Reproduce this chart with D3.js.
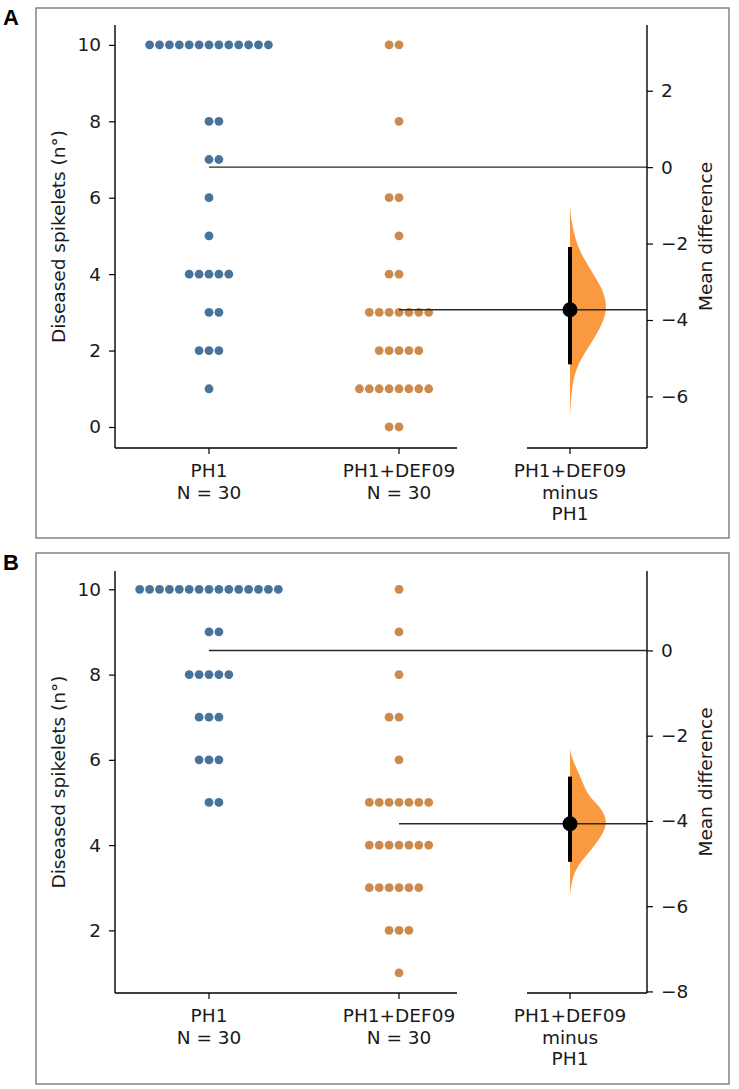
<!DOCTYPE html>
<html><head><meta charset="utf-8">
<script src="https://cdn.jsdelivr.net/npm/d3@7"></script>
<style>body{margin:0;background:#fff}svg{display:block}text{font-family:"DejaVu Sans",sans-serif;fill:#1a1a1a}</style>
</head><body><svg id="c" width="739" height="1089"></svg>
<script>
// ---------- DATA ----------
const groups = ["PH1", "PH1+DEF09"];
const groupN = ["N = 30", "N = 30"];
const diffLabel = ["PH1+DEF09", "minus", "PH1"];
const yLabel = "Diseased spikelets (n°)";
const rLabel = "Mean difference";

// Panel A raw observations
const A_PH1 = [10,10,10,10,10,10,10,10,10,10,10,10,10, 8,8, 7,7, 6, 5, 4,4,4,4,4, 3,3, 2,2,2, 1];
const A_DEF09 = [10,10, 8, 6,6, 5, 4,4, 3,3,3,3,3,3,3, 2,2,2,2,2, 1,1,1,1,1,1,1,1, 0,0];
const A_ci = [-5.16, -2.09];
const A_kdeDiff    = [-0.97,-1.3,-1.62,-2.15,-2.67,-3.19,-3.72,-4.24,-4.76,-5.29,-5.81,-6.2,-6.52];
const A_kdeDensity = [0, 0.02, 0.08, 0.22, 0.53, 0.87, 1.0, 0.79, 0.45, 0.14, 0.05, 0.02, 0];
const A_leftTicks = [0,2,4,6,8,10];
const A_rightTicks = [-6,-4,-2,0,2];
const A_yLim = [-0.55, 10.52];

// Panel B raw observations
const B_PH1 = [10,10,10,10,10,10,10,10,10,10,10,10,10,10,10, 9,9, 8,8,8,8,8, 7,7,7, 6,6,6, 5,5];
const B_DEF09 = [10, 9, 8, 7,7, 6, 5,5,5,5,5,5,5, 4,4,4,4,4,4,4, 3,3,3,3,3,3, 2,2,2, 1];
const B_ci = [-4.96, -2.96];
const B_kdeDiff    = [-2.31,-2.54,-2.85,-3.25,-3.48,-3.72,-4.05,-4.42,-4.89,-5.13,-5.41,-5.72];
const B_kdeDensity = [0, 0.05, 0.22, 0.4, 0.55, 0.85, 1.0, 0.8, 0.35, 0.15, 0.05, 0];
const B_leftTicks = [2,4,6,8,10];
const B_rightTicks = [-8,-6,-4,-2,0];
const B_yLim = [0.53, 10.43];

// ---------- STYLE / LAYOUT ----------
const colBlue = "#48739a", colOrange = "#cc8a4f", colViolin = "#fa9a40";
const FS = 18.5;
const svg = d3.select("#c");

function drawPanel(cfg) {
  const {top, bottom, frame, letter, g1, g2, ci, kdeX, kdeD, leftTicks, rightTicks, yLim} = cfg;
  const g = svg.append("g");
  // frame
  g.append("rect").attr("x", frame[0]).attr("y", frame[1]).attr("width", frame[2]-frame[0]).attr("height", frame[3]-frame[1])
    .attr("fill", "none").attr("stroke", "#707070").attr("stroke-width", 1.3);
  g.append("text").attr("x", 3).attr("y", frame[1] + 17).text(letter)
    .style("font-family", "'Liberation Sans',Arial,sans-serif").style("font-weight", "bold").style("font-size", "22px").style("fill", "#000");

  const xPos = {"PH1": 209, "PH1+DEF09": 399, "diff": 570};
  const y = d3.scaleLinear().domain(yLim).range([bottom, top]);
  const m1 = d3.mean(g1), m2 = d3.mean(g2);
  const yR = d3.scaleLinear().domain([yLim[0] - m1, yLim[1] - m1]).range([bottom, top]);
  const diff = m2 - m1;

  // left axis
  const la = g.append("g").attr("transform", `translate(115,0)`)
    .call(d3.axisLeft(y).tickValues(leftTicks).tickSize(6).tickPadding(8).tickFormat(d3.format("d")));
  la.select(".domain").attr("d", `M0,${top}V${bottom}`);
  // right axis
  const ra = g.append("g").attr("transform", `translate(647,0)`)
    .call(d3.axisRight(yR).tickValues(rightTicks).tickSize(6).tickPadding(8).tickFormat(d3.format("d")));
  ra.select(".domain").attr("d", `M0,${top}V${bottom}`);
  // bottom spines
  g.append("line").attr("x1", 115).attr("x2", 457).attr("y1", bottom).attr("y2", bottom).attr("class", "sp");
  g.append("line").attr("x1", 527).attr("x2", 647).attr("y1", bottom).attr("y2", bottom).attr("class", "sp");
  g.selectAll(".sp").attr("stroke", "#000").attr("stroke-width", 1.4);
  [la, ra].forEach(a => {
    a.selectAll(".domain").attr("stroke", "#000").attr("stroke-width", 1.4);
    a.selectAll(".tick line").attr("stroke", "#000").attr("stroke-width", 1.2);
    a.selectAll(".tick text").style("font-size", FS + "px").style("font-family", "'DejaVu Sans',sans-serif").attr("fill", "#1a1a1a");
  });
  // x ticks + labels
  const labels = [[groups[0], groupN[0]], [groups[1], groupN[1]], diffLabel];
  ["PH1", "PH1+DEF09", "diff"].forEach((k, i) => {
    const xx = xPos[k];
    g.append("line").attr("x1", xx).attr("x2", xx).attr("y1", bottom).attr("y2", bottom + 6).attr("stroke", "#000").attr("stroke-width", 1.2);
    labels[i].forEach((t, j) => {
      g.append("text").attr("x", xx).attr("y", bottom + 29 + j * 21.5).attr("text-anchor", "middle").style("font-size", FS + "px").text(t);
    });
  });
  // axis titles
  const yc = (top + bottom) / 2;
  g.append("text").attr("transform", `translate(65,${yc}) rotate(-90)`).attr("text-anchor", "middle").style("font-size", FS + "px").text(yLabel);
  g.append("text").attr("transform", `translate(712,${yc}) rotate(-90)`).attr("text-anchor", "middle").style("font-size", FS + "px").text(rLabel);

  // swarm
  const spacing = 9.9, r = 4.4;
  function swarm(vals, cx, firstSide) {
    const counts = {};
    return vals.map(v => {
      const i = counts[v] = (counts[v] === undefined ? 0 : counts[v] + 1);
      let k = 0;
      if (i > 0) { const step = Math.ceil(i / 2); k = (i % 2 === 1 ? firstSide : -firstSide) * step; }
      return {x: cx + k * spacing, y: y(v)};
    });
  }
  g.append("g").selectAll("circle").data(swarm(g1, xPos["PH1"], 1)).join("circle")
    .attr("cx", d => d.x).attr("cy", d => d.y).attr("r", r).attr("fill", colBlue);
  g.append("g").selectAll("circle").data(swarm(g2, xPos["PH1+DEF09"], -1)).join("circle")
    .attr("cx", d => d.x).attr("cy", d => d.y).attr("r", r).attr("fill", colOrange);

  // violin (half)
  const kde = kdeX.map((v, i) => [v, kdeD[i]]);
  const area = d3.area().y(d => yR(d[0])).x0(xPos.diff).x1(d => xPos.diff + d[1] * 38).curve(d3.curveBasis);
  g.append("path").datum(kde).attr("d", area).attr("fill", colViolin);

  // mean lines
  g.append("line").attr("x1", xPos["PH1"]).attr("x2", 647).attr("y1", y(m1)).attr("y2", y(m1)).attr("stroke", "#2a2a2a").attr("stroke-width", 1.4);
  g.append("line").attr("x1", xPos["PH1+DEF09"]).attr("x2", 647).attr("y1", y(m2)).attr("y2", y(m2)).attr("stroke", "#2a2a2a").attr("stroke-width", 1.4);

  // CI + mean
  g.append("line").attr("x1", xPos.diff).attr("x2", xPos.diff).attr("y1", yR(ci[0])).attr("y2", yR(ci[1])).attr("stroke", "#000").attr("stroke-width", 4);
  g.append("circle").attr("cx", xPos.diff).attr("cy", yR(diff)).attr("r", 7.5).attr("fill", "#000");
}

drawPanel({top: 25, bottom: 448, frame: [36, 8, 729, 538], letter: "A", g1: A_PH1, g2: A_DEF09, ci: A_ci,
  kdeX: A_kdeDiff, kdeD: A_kdeDensity, leftTicks: A_leftTicks, rightTicks: A_rightTicks, yLim: A_yLim});
drawPanel({top: 571, bottom: 993, frame: [36, 553, 729, 1084], letter: "B", g1: B_PH1, g2: B_DEF09, ci: B_ci,
  kdeX: B_kdeDiff, kdeD: B_kdeDensity, leftTicks: B_leftTicks, rightTicks: B_rightTicks, yLim: B_yLim});
</script></body></html>
